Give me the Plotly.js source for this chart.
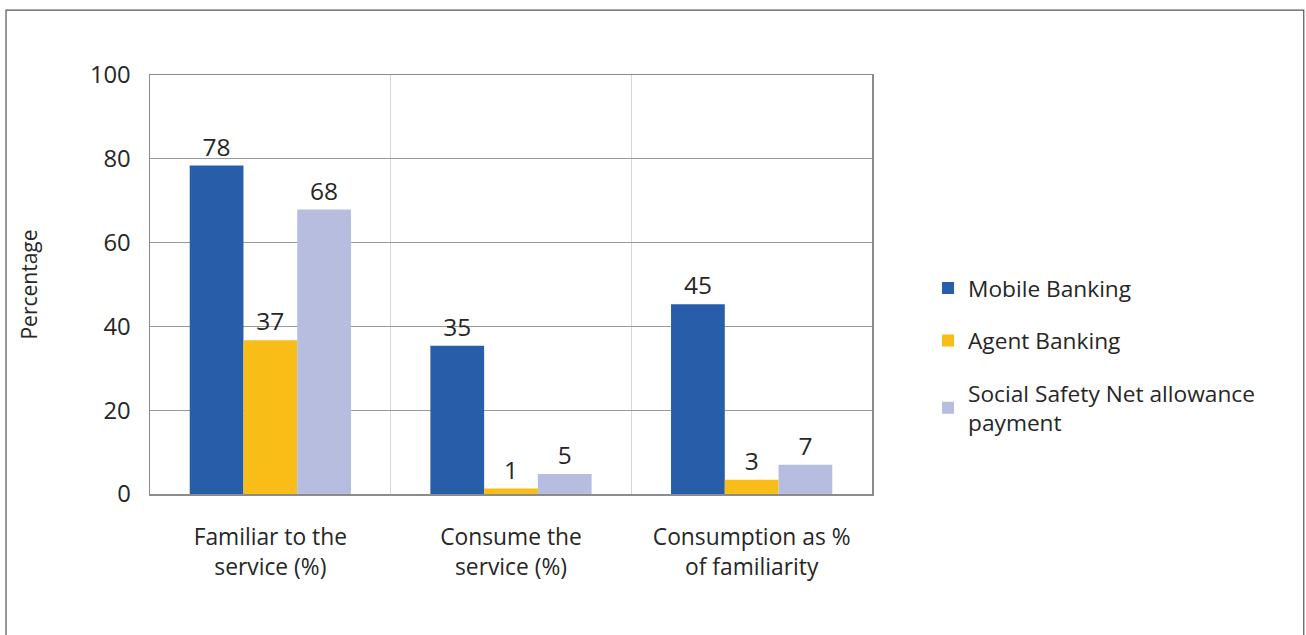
<!DOCTYPE html>
<html>
<head>
<meta charset="utf-8">
<script src="https://cdn.plot.ly/plotly-3.0.1.min.js"></script>
<style>
html,body{margin:0;padding:0;background:#fff;}
#chart{width:1306px;height:635px;}
</style>
</head>
<body>
<div id="chart"></div>
<script>
var categories = ["Familiar to the<br>service (%)", "Consume the<br>service (%)", "Consumption as %<br>of familiarity"];
var seriesNames = ["Mobile Banking", "Agent Banking", "Social Safety Net allowance<br>payment"];
var mobileBanking = [78.4, 35.4, 45.3];
var agentBanking = [36.7, 1.3, 3.4];
var socialSafetyNet = [67.9, 4.8, 7.0];
var yTicks = [0, 20, 40, 60, 80, 100];

var colors = ["#285da9", "#f9bd17", "#b6bddf"];
var FONT = "'Open Sans', Lato, sans-serif";
var TXT = "#262626";
var series = [mobileBanking, agentBanking, socialSafetyNet];

var traces = series.map(function (vals, i) {
  return {
    type: "bar",
    name: seriesNames[i],
    x: categories,
    y: vals,
    marker: {color: colors[i]},
    texttemplate: "%{y:.0f}",
    textposition: "outside",
    cliponaxis: false,
    textfont: {family: FONT, size: 24.5, color: TXT},
    legendgroup: "g" + i,
    hoverinfo: "x+y+name"
  };
});

var layout = {
  width: 1306,
  height: 635,
  margin: {l: 150, r: 434, t: 75, b: 141},
  paper_bgcolor: "#fff",
  plot_bgcolor: "#fff",
  barmode: "group",
  bargap: 0.33,
  bargroupgap: 0,
  font: {family: FONT, size: 22, color: TXT},
  xaxis: {
    type: "category",
    tickson: "boundaries",
    showgrid: true,
    gridcolor: "#d6d6d6",
    gridwidth: 1.5,
    showline: true,
    linecolor: "#8c8c8c",
    linewidth: 1.5,
    mirror: true,
    ticks: "",
    ticklabelstandoff: 22,
    tickfont: {family: FONT, size: 22.8, color: TXT}
  },
  yaxis: {
    range: [0, 100],
    tickvals: yTicks,
    showgrid: true,
    gridcolor: "#9a9a9a",
    gridwidth: 1,
    zeroline: false,
    showline: true,
    linecolor: "#8c8c8c",
    linewidth: 1.5,
    mirror: true,
    ticks: "",
    ticklabelstandoff: 13,
    tickfont: {family: FONT, size: 23.8, color: TXT},
    title: {text: "Percentage", font: {family: FONT, size: 21, color: TXT}, standoff: 46}
  },
  legend: {
    x: 1.0776,
    xanchor: "left",
    y: 0.33,
    yanchor: "middle",
    traceorder: "grouped",
    tracegroupgap: 20,
    font: {family: FONT, size: 22.7, color: TXT},
    bgcolor: "rgba(0,0,0,0)"
  },
  shapes: [{
    type: "rect",
    xref: "paper", yref: "paper",
    x0: -0.1994, x1: 1.598, y0: -0.34, y1: 1.155,
    line: {color: "#555", width: 1.2},
    fillcolor: "rgba(0,0,0,0)",
    layer: "below"
  }]
};

Plotly.newPlot("chart", traces, layout, {displayModeBar: false, staticPlot: true});
</script>
</body>
</html>
